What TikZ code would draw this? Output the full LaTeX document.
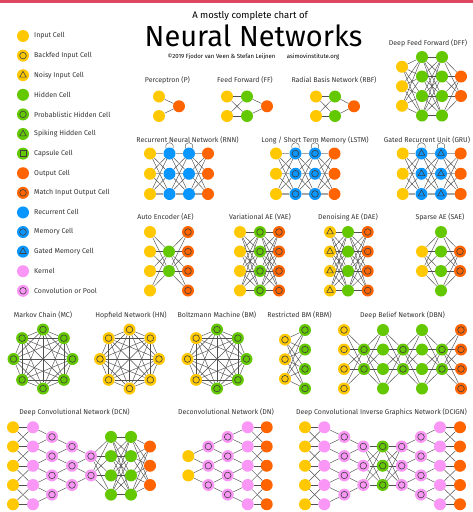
\documentclass[tikz,border=0pt]{standalone}
\usepackage{fontspec}
\setmainfont{Fira Sans}
\usetikzlibrary{calc}

\definecolor{cyellow}{RGB}{255,200,0}
\definecolor{cgreen}{RGB}{100,200,0}
\definecolor{corange}{RGB}{255,100,0}
\definecolor{cblue}{RGB}{10,150,255}
\definecolor{cpink}{RGB}{250,150,245}
\definecolor{cwire}{RGB}{80,80,80}
\definecolor{cbar}{RGB}{222,70,98}

% signs inside the cells
\newcommand{\ringsign}{\draw[cell sign] (path picture bounding box.center) circle (3.3pt);}
\newcommand{\trisign}{\draw[cell sign,shift={(path picture bounding box.center)}] (90:3.8pt) -- (210:3.8pt) -- (330:3.8pt) -- cycle;}
\newcommand{\boxsign}{\draw[cell sign,shift={(path picture bounding box.center)}] (-3pt,-3pt) rectangle (3pt,3pt);}

% one column of cells: name, style, x, y list
\newcommand{\layer}[4]{\foreach \yy [count=\k] in {#4} {\node[#2] (#1\k) at (#3,\yy) {};}}
% every cell of one column to every cell of the next
\newcommand{\full}[4]{\foreach \i in {1,...,#2} {\foreach \j in {1,...,#4} {\draw[wire] (#1\i) -- (#3\j);}}}
% same, with the straight rows lighter
\newcommand{\rfull}[3]{\foreach \i in {1,...,#3} {\foreach \j in {1,...,#3} {%
  \ifnum\i=\j \draw[row wire] (#1\i) -- (#2\j); \else \draw[wire] (#1\i) -- (#2\j); \fi}}}
% wide column to narrow column, neighbours only
\newcommand{\pool}[3]{\foreach \j [evaluate=\j as \jj using int(\j+1)] in {1,...,#3} {\draw[wire] (#1\j) -- (#2\j); \draw[wire] (#1\jj) -- (#2\j);}}
% rows plus crossings
\newcommand{\cross}[3]{\foreach \j in {1,...,#3} {\draw[wire] (#1\j) -- (#2\j);}
  \pgfmathtruncatemacro{\nm}{#3-1}
  \foreach \j [evaluate=\j as \jj using int(\j+1)] in {1,...,\nm} {\draw[wire] (#1\j) -- (#2\jj); \draw[wire] (#1\jj) -- (#2\j);}}
% all pairs of eight cells
\newcommand{\clique}[1]{\foreach \i in {1,...,7} {\pgfmathtruncatemacro{\lo}{\i+1}\foreach \j in {\lo,...,8} {\draw[wire] (#1\i) -- (#1\j);}}}

\begin{document}
\begin{tikzpicture}[x=1pt,y=-1pt,
    cell/.style={circle,inner sep=0pt,minimum size=12pt,draw=none},
    cell sign/.style={draw=black!75,line width=0.6pt},
    input cell/.style={cell,fill=cyellow},
    backfed cell/.style={input cell,path picture={\ringsign}},
    noisy cell/.style={input cell,path picture={\trisign}},
    hidden cell/.style={cell,fill=cgreen},
    prob cell/.style={hidden cell,path picture={\ringsign}},
    spiking cell/.style={hidden cell,path picture={\trisign}},
    capsule cell/.style={hidden cell,path picture={\boxsign}},
    output cell/.style={cell,fill=corange},
    match cell/.style={output cell,path picture={\ringsign}},
    recurrent cell/.style={cell,fill=cblue},
    memory cell/.style={recurrent cell,path picture={\ringsign}},
    gated cell/.style={recurrent cell,path picture={\trisign}},
    kernel cell/.style={cell,fill=cpink},
    conv cell/.style={kernel cell,path picture={\ringsign}},
    wire/.style={draw=cwire,line width=0.45pt},
    row wire/.style={draw=black!35,line width=1.3pt},
    legend text/.style={anchor=west,inner sep=0pt,text=black!80,font=\fontsize{7}{8}\selectfont},
    net text/.style={inner sep=0pt,text=black!80,font=\fontsize{7}{8}\selectfont}]

 \useasboundingbox (0,0) rectangle (473,512);
 \fill[white] (0,0) rectangle (473,512);
 \fill[cbar] (0,0) rectangle (473,2.5);

 % title
 \node[inner sep=0pt,font=\fontsize{9.5}{10}\selectfont] (sub) at (250,16) {A mostly complete chart of};
 \node[inner sep=0pt,anchor=base,font=\fontsize{29}{32}\selectfont] (title) at (253.5,46.5) {Neural Networks};
 \node[inner sep=0pt,font=\fontsize{6}{6}\selectfont] (credit) at (221.5,56.5) {©2019 Fjodor van Veen \& Stefan Leijnen};
 \node[inner sep=0pt,font=\fontsize{6}{6}\selectfont] (site) at (313,56.5) {asimovinstitute.org};

 % legend
 \node[input cell] (lg1) at (23,36) {};
 \node[legend text] (lt1) at (34,36) {Input Cell};
 \node[backfed cell] (lg2) at (23,55.6) {};
 \node[legend text] (lt2) at (34,55.6) {Backfed Input Cell};
 \node[noisy cell] (lg3) at (23,75.2) {};
 \node[legend text] (lt3) at (34,75.2) {Noisy Input Cell};
 \node[hidden cell] (lg4) at (23,94.8) {};
 \node[legend text] (lt4) at (34,94.8) {Hidden Cell};
 \node[prob cell] (lg5) at (23,114.4) {};
 \node[legend text] (lt5) at (34,114.4) {Probablistic Hidden Cell};
 \node[spiking cell] (lg6) at (23,134) {};
 \node[legend text] (lt6) at (34,134) {Spiking Hidden Cell};
 \node[capsule cell] (lg7) at (23,153.6) {};
 \node[legend text] (lt7) at (34,153.6) {Capsule Cell};
 \node[output cell] (lg8) at (23,173.2) {};
 \node[legend text] (lt8) at (34,173.2) {Output Cell};
 \node[match cell] (lg9) at (23,192.8) {};
 \node[legend text] (lt9) at (34,192.8) {Match Input Output Cell};
 \node[recurrent cell] (lg10) at (23,212.4) {};
 \node[legend text] (lt10) at (34,212.4) {Recurrent Cell};
 \node[memory cell] (lg11) at (23,232) {};
 \node[legend text] (lt11) at (34,232) {Memory Cell};
 \node[gated cell] (lg12) at (23,251.6) {};
 \node[legend text] (lt12) at (34,251.6) {Gated Memory Cell};
 \node[kernel cell] (lg13) at (23,271.2) {};
 \node[legend text] (lt13) at (34,271.2) {Kernel};
 \node[conv cell] (lg14) at (23,290.8) {};
 \node[legend text] (lt14) at (34,290.8) {Convolution or Pool};

 % perceptron, feed forward, radial basis
 \node[net text] (pl) at (167.5,80) {Perceptron (P)};
 \layer{pi}{input cell}{159}{96.5,116}
 \layer{po}{output cell}{179}{106.25}
 \full{pi}{2}{po}{1}

 \node[net text] (ffl) at (245,80) {Feed Forward (FF)};
 \layer{ffi}{input cell}{227}{96.5,116}
 \layer{ffh}{hidden cell}{247}{96.5,116}
 \layer{ffo}{output cell}{267}{106.25}
 \full{ffi}{2}{ffh}{2}
 \full{ffh}{2}{ffo}{1}

 \node[net text] (rfl) at (334,80) {Radial Basis Network (RBF)};
 \layer{rfi}{input cell}{316}{96.5,116}
 \layer{rfh}{hidden cell}{335}{96.5,116}
 \layer{rfo}{output cell}{354}{106.25}
 \full{rfi}{2}{rfh}{2}
 \full{rfh}{2}{rfo}{1}

 % deep feed forward
 \node[net text] (dffl) at (428,43) {Deep Feed Forward (DFF)};
 \layer{dfi}{input cell}{402}{66.75,86.25,105.75}
 \layer{dfa}{hidden cell}{422}{57,76.5,96,115.5}
 \layer{dfb}{hidden cell}{442}{57,76.5,96,115.5}
 \layer{dfo}{output cell}{461}{76.5,96}
 \full{dfi}{3}{dfa}{4}
 \full{dfa}{4}{dfb}{4}
 \full{dfb}{4}{dfo}{2}

 % recurrent row
 \node[net text] (rnnl) at (187.5,140) {Recurrent Neural Network (RNN)};
 \layer{rni}{input cell}{150}{153.5,173.75,194}
 \layer{rna}{recurrent cell}{169.5}{153.5,173.75,194}
 \layer{rnb}{recurrent cell}{189}{153.5,173.75,194}
 \layer{rno}{output cell}{208}{153.5,173.75,194}
 \rfull{rni}{rna}{3}
 \rfull{rna}{rnb}{3}
 \rfull{rnb}{rno}{3}
 \draw[wire] (rna1.125) .. controls +(105:8pt) and +(75:8pt) .. (rna1.55);
 \draw[wire] (rnb1.125) .. controls +(105:8pt) and +(75:8pt) .. (rnb1.55);

 \node[net text] (lsl) at (315,140) {Long / Short Term Memory (LSTM)};
 \layer{lsi}{input cell}{276}{153.5,173.75,194}
 \layer{lsa}{memory cell}{295.5}{153.5,173.75,194}
 \layer{lsb}{memory cell}{315}{153.5,173.75,194}
 \layer{lso}{output cell}{334.5}{153.5,173.75,194}
 \rfull{lsi}{lsa}{3}
 \rfull{lsa}{lsb}{3}
 \rfull{lsb}{lso}{3}
 \draw[wire] (lsa1.125) .. controls +(105:8pt) and +(75:8pt) .. (lsa1.55);
 \draw[wire] (lsb1.125) .. controls +(105:8pt) and +(75:8pt) .. (lsb1.55);

 \node[net text] (grl) at (427,140) {Gated Recurrent Unit (GRU)};
 \layer{gri}{input cell}{402.7}{153.5,173.75,194}
 \layer{gra}{gated cell}{421.5}{153.5,173.75,194}
 \layer{grb}{gated cell}{441}{153.5,173.75,194}
 \layer{gro}{output cell}{460.7}{153.5,173.75,194}
 \rfull{gri}{gra}{3}
 \rfull{gra}{grb}{3}
 \rfull{grb}{gro}{3}
 \draw[wire] (gra1.125) .. controls +(105:8pt) and +(75:8pt) .. (gra1.55);
 \draw[wire] (grb1.125) .. controls +(105:8pt) and +(75:8pt) .. (grb1.55);

 % auto encoders
 \node[net text] (ael) at (165.5,217) {Auto Encoder (AE)};
 \layer{aei}{input cell}{150}{232,251.5,271,290.5}
 \layer{aeh}{hidden cell}{169}{251.5,271}
 \layer{aeo}{match cell}{188}{232,251.5,271,290.5}
 \full{aei}{4}{aeh}{2}
 \full{aeh}{2}{aeo}{4}

 \node[net text] (vael) at (260,217) {Variational AE (VAE)};
 \layer{vai}{input cell}{240}{232,251.5,271,290.5}
 \layer{vah}{prob cell}{260}{232,251.5,271,290.5}
 \layer{vao}{match cell}{279}{232,251.5,271,290.5}
 \full{vai}{4}{vah}{4}
 \full{vah}{4}{vao}{4}

 \node[net text] (dael) at (348,217) {Denoising AE (DAE)};
 \layer{dai}{noisy cell}{330}{232,251.5,271,290.5}
 \layer{dah}{hidden cell}{348}{232,251.5,271,290.5}
 \layer{dao}{match cell}{367.7}{232,251.5,271,290.5}
 \full{dai}{4}{dah}{4}
 \full{dah}{4}{dao}{4}

 \node[net text] (sael) at (440,217) {Sparse AE (SAE)};
 \layer{sai}{input cell}{422}{251.5,271}
 \layer{sah}{hidden cell}{441}{232,251.5,271,290.5}
 \layer{sao}{match cell}{460}{251.5,271}
 \full{sai}{2}{sah}{4}
 \full{sah}{4}{sao}{2}

 % chains and machines
 \node[net text] (mcl) at (43,315) {Markov Chain (MC)};
 \foreach \a [count=\k] in {90,45,0,-45,-90,-135,180,135} {\node[prob cell] (mc\k) at ($(43,359)+(\a:29.5pt)$) {};}
 \clique{mc}

 \node[net text] (hnl) at (131,315) {Hopfield Network (HN)};
 \foreach \a [count=\k] in {90,45,0,-45,-90,-135,180,135} {\node[backfed cell] (hn\k) at ($(129.5,359)+(\a:29.5pt)$) {};}
 \clique{hn}

 \node[net text] (bml) at (217,315) {Boltzmann Machine (BM)};
 \foreach \a [count=\k] in {90,45,0,-45,-90} {\node[prob cell] (bm\k) at ($(217,359)+(\a:29.5pt)$) {};}
 \foreach \a [count=\k from 6] in {-135,180,135} {\node[backfed cell] (bm\k) at ($(217,359)+(\a:29.5pt)$) {};}
 \clique{bm}

 \node[net text] (rbml) at (299.5,315) {Restricted BM (RBM)};
 \layer{rmi}{backfed cell}{285}{339.75,359.25,378.75}
 \layer{rmh}{prob cell}{305}{330,349.5,369,388.5}
 \full{rmi}{3}{rmh}{4}

 \node[net text] (dbnl) at (402.5,315) {Deep Belief Network (DBN)};
 \layer{db1}{backfed cell}{344}{330,349.5,369,388.5}
 \layer{db2}{prob cell}{364}{349.5,369}
 \layer{db3}{hidden cell}{383}{330,349.5,369,388.5}
 \layer{db4}{prob cell}{403}{349.5,369}
 \layer{db5}{hidden cell}{422}{330,349.5,369,388.5}
 \layer{db6}{prob cell}{442}{349.5,369}
 \layer{db7}{match cell}{461}{330,349.5,369,388.5}
 \full{db1}{4}{db2}{2}
 \full{db2}{2}{db3}{4}
 \full{db3}{4}{db4}{2}
 \full{db4}{2}{db5}{4}
 \full{db5}{4}{db6}{2}
 \full{db6}{2}{db7}{4}

 % convolutional row
 \node[net text] (dcnl) at (74.5,412) {Deep Convolutional Network (DCN)};
 \layer{dci}{input cell}{13}{427.25,446.5,465.75,485,504.25}
 \layer{dck}{kernel cell}{33}{427.25,446.5,465.75,485,504.25}
 \layer{dc1}{conv cell}{52}{436.9,456.1,475.4,494.6}
 \layer{dc2}{conv cell}{72}{446.5,465.75,485}
 \layer{dc3}{conv cell}{91}{456.1,475.4}
 \layer{dch}{hidden cell}{111}{436.9,456.1,475.4,494.6}
 \layer{dcg}{hidden cell}{131}{436.9,456.1,475.4,494.6}
 \layer{dco}{output cell}{150}{446.5,465.75,485}
 \cross{dci}{dck}{5}
 \pool{dck}{dc1}{4}
 \pool{dc1}{dc2}{3}
 \pool{dc2}{dc3}{2}
 \full{dc3}{2}{dch}{4}
 \full{dch}{4}{dcg}{4}
 \full{dcg}{4}{dco}{3}

 \node[net text] (dnl) at (226,412) {Deconvolutional Network (DN)};
 \layer{dni}{input cell}{188.3}{456.1,475.4}
 \layer{dn1}{conv cell}{208.3}{446.5,465.75,485}
 \layer{dn2}{conv cell}{227.7}{436.9,456.1,475.4,494.6}
 \layer{dnk}{kernel cell}{247.7}{427.25,446.5,465.75,485,504.25}
 \layer{dno}{output cell}{266.7}{427.25,446.5,465.75,485,504.25}
 \pool{dn1}{dni}{2}
 \pool{dn2}{dn1}{3}
 \pool{dnk}{dn2}{4}
 \cross{dnk}{dno}{5}

 \node[net text] (igl) at (381.5,412) {Deep Convolutional Inverse Graphics Network (DCIGN)};
 \layer{igi}{input cell}{305}{427.25,446.5,465.75,485,504.25}
 \layer{igk}{kernel cell}{324.3}{427.25,446.5,465.75,485,504.25}
 \layer{ig1}{conv cell}{344.3}{436.9,456.1,475.4,494.6}
 \layer{ig2}{conv cell}{363.3}{446.5,465.75,485}
 \layer{igh}{prob cell}{382.7}{446.5,465.75,485}
 \layer{ig3}{conv cell}{401.7}{446.5,465.75,485}
 \layer{ig4}{conv cell}{421}{436.9,456.1,475.4,494.6}
 \layer{igm}{kernel cell}{440}{427.25,446.5,465.75,485,504.25}
 \layer{igo}{output cell}{460}{427.25,446.5,465.75,485,504.25}
 \cross{igi}{igk}{5}
 \pool{igk}{ig1}{4}
 \pool{ig1}{ig2}{3}
 \full{ig2}{3}{igh}{3}
 \full{igh}{3}{ig3}{3}
 \pool{ig4}{ig3}{3}
 \pool{igm}{ig4}{4}
 \cross{igm}{igo}{5}

\end{tikzpicture}
\end{document}
